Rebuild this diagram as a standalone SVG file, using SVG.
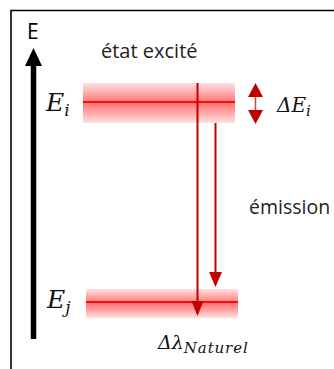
<svg xmlns="http://www.w3.org/2000/svg" width="334" height="369" viewBox="0 0 334 369">
<style>
.txt{font-family:"Open Sans","Liberation Sans",sans-serif;fill:#222}
.math{font-family:"DejaVu Serif","Liberation Serif",serif;font-style:italic;fill:#111}
.red{stroke:#C00000;stroke-width:2;fill:none}
</style>
<defs>
<linearGradient id="band" x1="0" y1="0" x2="0" y2="1">
<stop offset="0" stop-color="#FF0000" stop-opacity="0.12"/>
<stop offset="0.5" stop-color="#FF0000" stop-opacity="0.55"/>
<stop offset="1" stop-color="#FF0000" stop-opacity="0.12"/>
</linearGradient>
</defs>
<rect x="0" y="0" width="334" height="369" fill="#fff"/>
<path d="M11,370 V10.5 H335" fill="none" stroke="#000" stroke-width="1.6"/>
<g id="axis">
<line x1="33.5" y1="339" x2="33.5" y2="64" stroke="#000" stroke-width="5.5"/>
<path d="M25,66 L33.5,48 L42,66 Z" fill="#000"/>
<text class="txt" x="27" y="39" font-size="21" style="fill:#000">E</text>
</g>
<g id="level-i">
<rect x="83" y="83" width="152" height="40" fill="url(#band)"/>
<line x1="83" y1="102" x2="235" y2="102" stroke="#F01010" stroke-width="2"/>
<text class="math" x="46" y="111" font-size="25">E<tspan font-size="17" dy="5">i</tspan></text>
</g>
<g id="level-j">
<rect x="86" y="289" width="152" height="29" fill="url(#band)"/>
<line x1="86" y1="302" x2="238" y2="302" stroke="#F01010" stroke-width="2"/>
<text class="math" x="47" y="308" font-size="25">E<tspan font-size="17" dy="5">j</tspan></text>
</g>
<g id="labels">
<text class="txt" x="101" y="58" font-size="20">état excité</text>
<text class="txt" x="249" y="214" font-size="19.5">émission</text>
<text class="math" x="277" y="112" font-size="20">ΔE<tspan font-size="15" dy="4">i</tspan></text>
<text class="math" x="158" y="349" font-size="19">Δλ<tspan font-size="15" dy="4" letter-spacing="0.9">Naturel</tspan></text>
</g>
<g id="connectors">
<line class="red" x1="197.5" y1="83" x2="197.5" y2="303"/>
<path d="M191.5,301 L197.5,316 L203.5,301 Z" fill="#C00000"/>
<line class="red" x1="215.5" y1="123" x2="215.5" y2="274"/>
<path d="M209,272 L215.5,287 L222,272 Z" fill="#C00000"/>
<line x1="255.5" y1="95" x2="255.5" y2="112" stroke="#D84040" stroke-width="1.5"/>
<path d="M248,97 L255.5,83 L263,97 Z" fill="#C00000"/>
<path d="M248,110 L255.5,124 L263,110 Z" fill="#C00000"/>
</g>
</svg>
